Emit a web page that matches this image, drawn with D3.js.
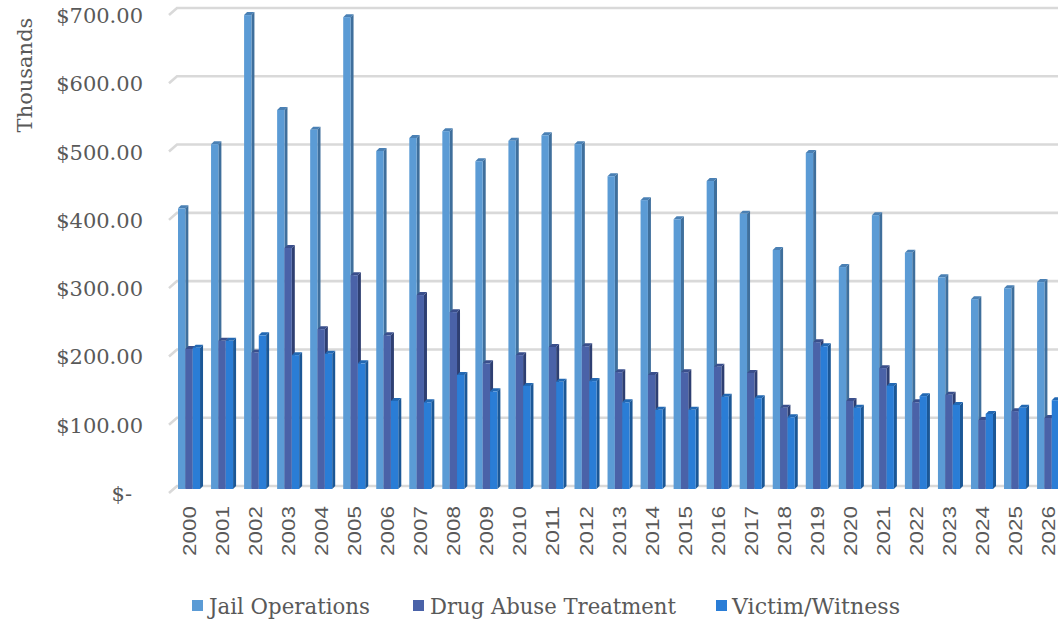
<!DOCTYPE html>
<html>
<head>
<meta charset="utf-8">
<script src="https://cdn.jsdelivr.net/npm/d3@7"></script>
<style>
  body { margin: 0; background: #ffffff; }
  svg { display: block; }
</style>
</head>
<body>
<svg id="chart" width="1058" height="621"></svg>
<script>
// Annual amounts, in thousands of dollars
const years = ["2000","2001","2002","2003","2004","2005","2006","2007","2008","2009",
  "2010","2011","2012","2013","2014","2015","2016","2017","2018","2019",
  "2020","2021","2022","2023","2024","2025","2026"];

const jailOperations = [411, 505, 694, 555, 526, 691, 495, 514, 524, 480,
  510, 518, 505, 458, 423, 395, 451, 403, 350, 492,
  325, 401, 346, 310, 278, 294, 303];

const drugAbuseTreatment = [205, 217, 200, 353, 234, 313, 225, 284, 259, 184,
  196, 208, 209, 171, 167, 171, 179, 170, 119, 215,
  129, 177, 127, 138, 101, 114, 104];

const victimWitness = [207, 217, 225, 196, 198, 184, 129, 127, 167, 143,
  151, 157, 158, 127, 116, 116, 135, 133, 105, 209,
  119, 151, 136, 123, 110, 119, 130];

const yTicks = [0, 100, 200, 300, 400, 500, 600, 700];

const seriesNames = ["Jail Operations", "Drug Abuse Treatment", "Victim/Witness"];

// Face colours for each series: front, side, top
const palette = {
  "Jail Operations":      { front: "#5b9bd5", side: "#3f6f9c", top: "#4a80b4" },
  "Drug Abuse Treatment": { front: "#4a62a8", side: "#2e3f72", top: "#3a4f8c" },
  "Victim/Witness":       { front: "#2a7dd6", side: "#1b5796", top: "#2268b3" }
};

const series = seriesNames.map((name, k) => ({
  name,
  values: [jailOperations, drugAbuseTreatment, victimWitness][k]
}));

const svg = d3.select("#chart");
const textColor = "#595959";
const serif = "'DejaVu Serif', Georgia, serif";

// Scales
const y = d3.scaleLinear().domain([0, 700]).range([486, 8]);
const x = d3.scaleBand().domain(years).range([172.5, 1064.6])
  .paddingInner(1 / 3).paddingOuter(1 / 6);
const xs = d3.scaleBand().domain(seriesNames).range([0, x.bandwidth()]);

const depth = 3;               // bar depth offset (3-D look)
const wallDx = 8, wallDy = 7;  // back-wall perspective offset
const floorY = y(0) + depth;

// Back-wall gridlines with a short perspective stub on the left
svg.append("g").attr("class", "grid")
  .selectAll("path")
  .data(yTicks)
  .join("path")
  .attr("d", t => `M${177 - wallDx},${y(t) + wallDy} L177,${y(t)} L1058,${y(t)}`)
  .attr("fill", "none")
  .attr("stroke", "#d9d9d9")
  .attr("stroke-width", 2.6);

// Y axis labels
const fmt = d3.format(",.2f");
svg.append("g").attr("class", "y-labels")
  .selectAll("text")
  .data(yTicks)
  .join("text")
  .attr("x", t => t === 0 ? 132 : 143)
  .attr("y", t => y(t) + 8)
  .attr("text-anchor", "end")
  .attr("dominant-baseline", "central")
  .attr("font-family", serif)
  .attr("font-size", 21)
  .attr("fill", textColor)
  .text(t => t === 0 ? "$-" : "$" + fmt(t));

// Axis title
svg.append("text")
  .attr("transform", "translate(32,75) rotate(-90)")
  .attr("text-anchor", "middle")
  .attr("font-family", serif)
  .attr("font-size", 21)
  .attr("fill", textColor)
  .text("Thousands");

// Bars: each category drawn left to right, series in order so the
// front face of each bar covers the side face of the one before it
const bars = svg.append("g").attr("class", "bars");
years.forEach((yr, i) => {
  const grp = bars.append("g").attr("class", "cat");
  series.forEach(s => {
    const v = s.values[i];
    const x0 = x(yr) + xs(s.name);
    const w = xs.bandwidth();
    const top = y(v) + depth;
    const c = palette[s.name];
    const b = grp.append("g");
    b.append("polygon")
      .attr("points", [[x0 + w, top], [x0 + w + depth, top - depth],
        [x0 + w + depth, floorY - depth], [x0 + w, floorY]].join(" "))
      .attr("fill", c.side);
    b.append("polygon")
      .attr("points", [[x0, top], [x0 + depth, top - depth],
        [x0 + w + depth, top - depth], [x0 + w, top]].join(" "))
      .attr("fill", c.top);
    b.append("rect")
      .attr("x", x0).attr("y", top)
      .attr("width", w).attr("height", floorY - top)
      .attr("fill", c.front);
  });
});

// X axis labels (rotated)
svg.append("g").attr("class", "x-labels")
  .selectAll("text")
  .data(years)
  .join("text")
  .attr("transform", d => `translate(${x(d) + x.bandwidth() / 2 + 7},506) rotate(-90)`)
  .attr("text-anchor", "end")
  .attr("font-family", "'Liberation Sans', Arial, sans-serif")
  .attr("font-size", 19)
  .attr("textLength", 50)
  .attr("lengthAdjust", "spacingAndGlyphs")
  .attr("fill", textColor)
  .text(d => d);

// Legend
const legendLayout = [
  { marker: 192, text: 209, len: 161 },
  { marker: 413, text: 430, len: 246 },
  { marker: 716, text: 732, len: 168 }
];
const legend = svg.append("g").attr("class", "legend");
seriesNames.forEach((name, k) => {
  const L = legendLayout[k];
  legend.append("rect")
    .attr("x", L.marker).attr("y", 600)
    .attr("width", 11).attr("height", 11)
    .attr("fill", palette[name].front);
  legend.append("text")
    .attr("x", L.text).attr("y", 614)
    .attr("font-family", serif)
    .attr("font-size", 23)
    .attr("textLength", L.len)
    .attr("lengthAdjust", "spacingAndGlyphs")
    .attr("fill", textColor)
    .text(name);
});
</script>
</body>
</html>
